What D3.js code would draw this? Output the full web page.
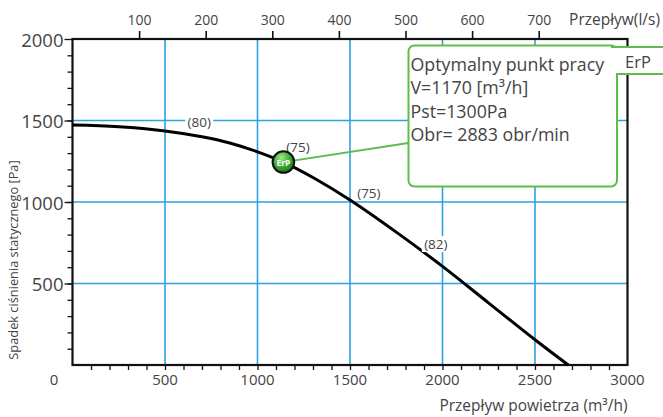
<!DOCTYPE html>
<html><head><meta charset="utf-8">
<script src="https://cdn.jsdelivr.net/npm/d3@7"></script>
<style>
html,body{margin:0;padding:0;background:#fff;}
svg{display:block;font-family:"Open Sans","Noto Sans",sans-serif;}
</style></head>
<body>
<svg id="chart" width="663" height="417"></svg>
<script>
// ---- data ----
const flowM3h    = [0, 250, 500, 700, 850, 1000, 1140, 1300, 1500, 1750, 2000, 2250, 2500, 2680];
const pressurePa = [1472, 1462, 1436, 1400, 1362, 1308, 1245, 1150, 1012, 815, 605, 380, 155, 0];
const xTickValues = [500, 1000, 1500, 2000, 2500, 3000];
const yTickValues = [500, 1000, 1500, 2000];
const topTickValues = [100, 200, 300, 400, 500, 600, 700];
const gridX = [500, 1000, 1500, 2000, 2500];
const gridY = [500, 1000, 1500];
const curveLabelText = ["(80)", "(75)", "(75)", "(82)"];
const curveLabelFlow = [685, 1219, 1602, 1964];
const curveLabelPa   = [1490, 1340, 1058, 742];
const optFlow = 1140, optPa = 1245;
const calloutLines = ["Optymalny punkt pracy", "V=1170 [m\u00B3/h]", "Pst=1300Pa", "Obr= 2883 obr/min"];
const xTitle = "Przep\u0142yw powietrza (m\u00B3/h)";
const yTitle = "Spadek ci\u015Bnienia statycznego  [Pa]";
const topTitle = "Przep\u0142yw(l/s)";

// ---- scales ----
const svg = d3.select("#chart");
const L = 72.5, R = 627.5, T = 39, B = 365;
const x = d3.scaleLinear().domain([0, 3000]).range([L, R]);
const y = d3.scaleLinear().domain([0, 2000]).range([B, T]);
const xTop = d3.scaleLinear().domain([0, 3000 / 3.6]).range([L, R]);
const grid = "#2ba3df", green = "#5abd4c", txt = "#444";

// gridlines
svg.append("g").selectAll("line").data(gridX).join("line")
  .attr("x1", d => x(d)).attr("x2", d => x(d)).attr("y1", T).attr("y2", B)
  .attr("stroke", grid).attr("stroke-width", 1.6);
svg.append("g").selectAll("line").data(gridY).join("line")
  .attr("y1", d => y(d)).attr("y2", d => y(d)).attr("x1", L).attr("x2", R)
  .attr("stroke", grid).attr("stroke-width", 1.6);

// axes
const minorX = d3.range(100, 3000, 100);
const gB = svg.append("g").attr("transform", `translate(0,${B})`)
  .call(d3.axisBottom(x).tickValues(minorX).tickSize(5).tickFormat(""));
gB.select(".domain").remove();
gB.selectAll("line").attr("stroke", "#111").attr("stroke-width", 1.3);

const minorY = d3.range(100, 2000, 100);
const gL = svg.append("g").attr("transform", `translate(${L},0)`)
  .call(d3.axisLeft(y).tickValues(minorY).tickSize(5).tickFormat(""));
gL.select(".domain").remove();
gL.selectAll("line").attr("stroke", "#111").attr("stroke-width", 1.3);
const gL2 = svg.append("g").attr("transform", `translate(${L},0)`)
  .call(d3.axisLeft(y).tickValues(yTickValues).tickSize(8).tickFormat(""));
gL2.select(".domain").remove();
gL2.selectAll("line").attr("stroke", "#111").attr("stroke-width", 1.3);

const gT = svg.append("g").attr("transform", `translate(0,${T})`)
  .call(d3.axisTop(xTop).tickValues(topTickValues).tickSize(8).tickPadding(6).tickFormat(d3.format("d")));
gT.select(".domain").remove();
gT.selectAll("line").attr("stroke", "#111").attr("stroke-width", 1.6);
gT.selectAll("text").attr("font-size", 14).attr("fill", txt).attr("font-family", "Open Sans");

// frame
svg.append("rect").attr("x", L).attr("y", T).attr("width", R - L).attr("height", B - T)
  .attr("fill", "none").attr("stroke", "#111").attr("stroke-width", 2.2);

// tick labels
svg.append("g").selectAll("text").data(xTickValues).join("text")
  .attr("x", d => x(d)).attr("y", B + 14).attr("text-anchor", "middle")
  .attr("dominant-baseline", "central").attr("font-size", 15).attr("fill", txt).text(d => d);
svg.append("g").selectAll("text").data(yTickValues).join("text")
  .attr("x", L - 9).attr("y", d => y(d)).attr("text-anchor", "end")
  .attr("dominant-baseline", "central").attr("font-size", 18.5).attr("fill", txt).text(d => d);
svg.append("text").attr("x", 54).attr("y", B + 14).attr("text-anchor", "middle")
  .attr("dominant-baseline", "central").attr("font-size", 15).attr("fill", txt).text(0);

// titles
svg.append("text").attr("x", R).attr("y", 411).attr("text-anchor", "end")
  .attr("font-size", 15.5).attr("fill", txt).text(xTitle);
svg.append("text").attr("x", 660).attr("y", 25).attr("text-anchor", "end")
  .attr("font-size", 15.5).attr("fill", txt).text(topTitle);
svg.append("text").attr("transform", `translate(18,${(152 + 368) / 2}) rotate(-90)`)
  .attr("text-anchor", "middle").attr("font-size", 12.8).attr("fill", txt).text(yTitle);

// curve
const pts = flowM3h.map((v, i) => [v, pressurePa[i]]);
svg.append("path").datum(pts)
  .attr("d", d3.line().x(d => x(d[0])).y(d => y(d[1])).curve(d3.curveCatmullRom.alpha(0.5)))
  .attr("fill", "none").attr("stroke", "#000").attr("stroke-width", 3);

// curve labels
const lab = svg.append("g").selectAll("g").data(curveLabelText).join("g")
  .attr("transform", (d, i) => `translate(${x(curveLabelFlow[i])},${y(curveLabelPa[i])})`);
lab.append("rect").attr("x", -14).attr("y", -8).attr("width", 28).attr("height", 16).attr("fill", "#fff");
lab.append("text").attr("text-anchor", "middle").attr("dominant-baseline", "central")
  .attr("font-size", 13.5).attr("fill", txt).text(d => d);

// callout
const bx = 408.5, by = 45.5, bw = 208.5, bh = 141;
svg.append("line").attr("x1", x(optFlow)).attr("y1", y(optPa)).attr("x2", bx).attr("y2", 143)
  .attr("stroke", green).attr("stroke-width", 1.8);
svg.append("rect").attr("x", bx).attr("y", by).attr("width", bw).attr("height", bh)
  .attr("rx", 6).attr("fill", "#fff").attr("stroke", green).attr("stroke-width", 2);
// tab
svg.append("rect").attr("x", bx + bw - 2).attr("y", by + 1.5).attr("width", 60).attr("height", 27)
  .attr("fill", "#fff");
svg.append("line").attr("x1", bx + bw - 6).attr("x2", 663).attr("y1", by + 1.5).attr("y2", by + 1.5)
  .attr("stroke", green).attr("stroke-width", 2);
svg.append("line").attr("x1", bx + bw - 1).attr("x2", 663).attr("y1", 74).attr("y2", 74)
  .attr("stroke", green).attr("stroke-width", 2);
svg.append("text").attr("x", 625).attr("y", 68).attr("font-size", 16.5).attr("fill", txt).text("ErP");
svg.append("g").selectAll("text").data(calloutLines).join("text")
  .attr("x", bx + 2).attr("y", (d, i) => 71 + i * 23.3)
  .attr("font-size", 17.8).attr("fill", txt).text(d => d);

// marker
const defs = svg.append("defs");
const gr = defs.append("radialGradient").attr("id", "mg").attr("cx", "40%").attr("cy", "30%").attr("r", "70%");
gr.append("stop").attr("offset", "0%").attr("stop-color", "#a8e68a");
gr.append("stop").attr("offset", "50%").attr("stop-color", "#45b23a");
gr.append("stop").attr("offset", "100%").attr("stop-color", "#1f7a1f");
svg.append("circle").attr("cx", x(optFlow)).attr("cy", y(optPa)).attr("r", 10.8)
  .attr("fill", "url(#mg)").attr("stroke", "#111").attr("stroke-width", 2);
svg.append("text").attr("x", x(optFlow)).attr("y", y(optPa) + 0.5).attr("text-anchor", "middle")
  .attr("dominant-baseline", "central").attr("font-size", 8.5).attr("font-weight", "bold")
  .attr("fill", "#fff").text("ErP");
</script>
</body></html>
